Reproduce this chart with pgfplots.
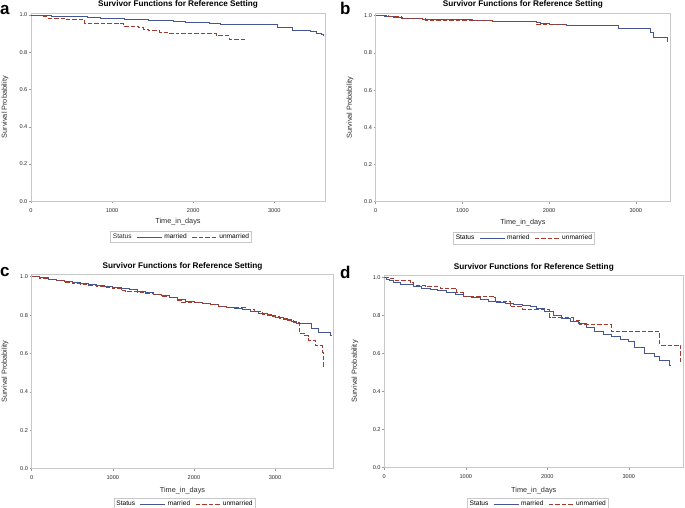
\documentclass[border=0pt]{standalone}
\usepackage{fontspec}
\setmainfont{Liberation Sans}
\usepackage{pgfplots}
\pgfplotsset{compat=1.18}
\definecolor{sasblue}{HTML}{445694}
\definecolor{sasred}{HTML}{A23A2E}
\definecolor{framegray}{HTML}{C8C8C8}
\definecolor{tickgray}{HTML}{9A9A9A}
\definecolor{txtgray}{HTML}{2A2A2A}
\pgfplotsset{
  km/.style={
    scale only axis, anchor=south west,
    xmin=0, ymin=0,
    axis line style={framegray, line width=0.6pt},
    tick style={tickgray, line width=0.5pt},
    tick align=outside, major tick length=2pt,
    tick pos=left,
    xtick={0,1000,2000,3000},
    ytick={0,0.2,0.4,0.6,0.8,1.0},
    scaled x ticks=false,
    ticklabel style={font=\fontsize{5.6}{6}\selectfont, text=txtgray, inner sep=1.5pt},
    xticklabel style={yshift=-3.5pt, /pgf/number format/.cd, 1000 sep={}},
    yticklabel style={/pgf/number format/.cd, fixed, fixed zerofill, precision=1},
    /pgf/number format/assume math mode=true,
    xlabel={Time\_in\_days}, ylabel={Survival Probability},
    label style={font=\fontsize{7.3}{8}\selectfont, text=txtgray},
    title={Survivor Functions for Reference Setting},
    title style={font=\bfseries\fontsize{8.2}{9}\selectfont, at={(axis description cs:0.5,1)}, anchor=center},
    legend columns=-1,
    legend style={draw=framegray, line width=0.5pt, font=\fontsize{6.6}{7}\selectfont,
      at={(axis description cs:0.5,0)}, anchor=north, inner sep=0.6pt,
      /tikz/every even column/.append style={column sep=3pt}},
  },
  married/.style={sasblue, line width=0.7pt, const plot mark left,
    legend image code/.code={\draw[sasblue, line width=0.7pt] (0pt,0pt) -- (25pt,0pt);}},
  unmarried/.style={sasred, line width=0.7pt, const plot mark left, dash pattern=on 4.5pt off 2pt,
    legend image code/.code={\draw[sasred, line width=0.7pt, dash pattern=on 4.5pt off 2pt] (0pt,0pt) -- (25pt,0pt);}},
}
\begin{document}
\begin{tikzpicture}
\useasboundingbox (0pt,0pt) rectangle (685pt,508pt);
% panel letters
\node[font=\bfseries\fontsize{17}{18}\selectfont, anchor=base west, inner sep=0] at (0pt,493pt) {a};
\node[font=\bfseries\fontsize{17}{18}\selectfont, anchor=base west, inner sep=0] at (340pt,493pt) {b};
\node[font=\bfseries\fontsize{17}{18}\selectfont, anchor=base west, inner sep=0] at (0pt,231.5pt) {c};
\node[font=\bfseries\fontsize{17}{18}\selectfont, anchor=base west, inner sep=0] at (340pt,229pt) {d};

% ---------------- a
\begin{axis}[km, at={(31pt,306.7pt)}, width=294pt, height=188pt, xmax=3625, ymax=1.009,
  title style={yshift=2.4pt},
  xlabel style={at={(axis description cs:0.5,0)}, anchor=center, yshift=-20.4pt},
  ylabel style={at={(axis description cs:-0.0884,0.5)}, anchor=center},
  legend style={yshift=-29.7pt, xshift=3pt}]
\addlegendimage{empty legend}\addlegendentry{\textcolor{txtgray}{Status}\hspace{8pt}}
\addplot[married] coordinates {(0,1) (100,0.998) (250,0.995) (400,0.993) (550,0.990) (700,0.987) (850,0.984) (1000,0.981) (1150,0.977) (1300,0.974) (1450,0.972) (1600,0.969) (1750,0.966) (1900,0.962) (2050,0.958) (2200,0.955) (2330,0.952) (2700,0.950) (2900,0.948) (3040,0.934) (3225,0.916) (3450,0.912) (3515,0.904) (3575,0.895) (3600,0.886)};
\addlegendentry{married}
\addplot[unmarried] coordinates {(0,1) (130,0.995) (190,0.984) (420,0.978) (662,0.957) (1073,0.953) (1134,0.941) (1320,0.932) (1381,0.923) (1450,0.918) (1587,0.909) (1690,0.904) (1812,0.900) (2281,0.888) (2445,0.870) (2650,0.866)};
\addlegendentry{unmarried}
\end{axis}

% ---------------- b
\begin{axis}[km, at={(375.7pt,306.3pt)}, width=294.3pt, height=188.4pt, xmax=3395, ymax=1.013,
  title style={yshift=2.4pt},
  xlabel style={at={(axis description cs:0.5,0)}, anchor=center, yshift=-21pt},
  ylabel style={at={(axis description cs:-0.0873,0.5)}, anchor=center},
  legend style={yshift=-30.5pt, xshift=1pt}]
\addlegendimage{empty legend}\addlegendentry{Status\hspace{8pt}}
\addplot[married] coordinates {(0,1) (100,0.996) (200,0.992) (303,0.988) (534,0.982) (995,0.979) (1111,0.975) (1342,0.968) (1850,0.964) (1895,0.961) (2000,0.955) (2203,0.950) (2798,0.932) (3165,0.910) (3200,0.884) (3363,0.862) (3368,0.862)};
\addlegendentry{married}
\addplot[unmarried] coordinates {(0,1) (150,0.995) (300,0.985) (572,0.976) (1000,0.975) (1342,0.968) (1857,0.955) (1950,0.953) (2221,0.948)};
\addlegendentry{unmarried}
\end{axis}

% ---------------- c
\begin{axis}[km, at={(31.7pt,39.3pt)}, width=301.6pt, height=194.4pt, xmax=3719, ymax=1.0125,
  title style={yshift=2.3pt},
  xlabel style={at={(axis description cs:0.5,0)}, anchor=center, yshift=-22pt},
  ylabel style={at={(axis description cs:-0.0885,0.5)}, anchor=center},
  legend style={yshift=-29.6pt, xshift=2pt}]
\addlegendimage{empty legend}\addlegendentry{Status\hspace{8pt}}
\addplot[married] coordinates {(0,1) (100,0.994) (200,0.988) (300,0.982) (400,0.976) (500,0.970) (600,0.965) (700,0.962) (800,0.957) (900,0.951) (1000,0.945) (1100,0.938) (1200,0.932) (1300,0.926) (1400,0.918) (1500,0.910) (1600,0.902) (1700,0.893) (1800,0.884) (1900,0.874) (2000,0.867) (2100,0.862) (2200,0.855) (2300,0.848) (2400,0.840) (2500,0.834) (2600,0.828) (2700,0.818) (2800,0.808) (2900,0.798) (3000,0.788) (3100,0.780) (3200,0.770) (3268,0.757) (3450,0.731) (3530,0.708) (3688,0.695) (3692,0.695)};
\addlegendentry{married}
\addplot[unmarried] coordinates {(0,1) (100,0.993) (200,0.986) (300,0.979) (400,0.972) (500,0.965) (600,0.960) (700,0.955) (800,0.950) (900,0.945) (1000,0.938) (1100,0.930) (1150,0.922) (1300,0.920) (1400,0.915) (1500,0.908) (1600,0.900) (1700,0.890) (1800,0.878) (1850,0.866) (1950,0.866) (2100,0.860) (2200,0.854) (2300,0.846) (2400,0.840) (2500,0.838) (2650,0.832) (2750,0.818) (2850,0.805) (2950,0.795) (3050,0.785) (3150,0.772) (3230,0.760) (3296,0.705) (3360,0.693) (3410,0.670) (3493,0.641) (3588,0.604) (3596,0.531) (3600,0.531)};
\addlegendentry{unmarried}
\end{axis}

% ---------------- d
\begin{axis}[km, at={(384.3pt,40.3pt)}, width=299pt, height=192.7pt, xmax=3669, ymax=1.012,
  title style={yshift=1.7pt},
  xlabel style={at={(axis description cs:0.5,0)}, anchor=center, yshift=-23pt},
  ylabel style={at={(axis description cs:-0.098,0.5)}, anchor=center},
  legend style={yshift=-30.3pt, xshift=4pt}]
\addlegendimage{empty legend}\addlegendentry{Status\hspace{8pt}}
\addplot[married] coordinates {(0,1) (30,0.990) (60,0.982) (110,0.976) (193,0.965) (356,0.951) (450,0.944) (561,0.937) (650,0.930) (766,0.921) (870,0.912) (970,0.902) (1070,0.893) (1174,0.884) (1280,0.876) (1379,0.869) (1480,0.862) (1583,0.857) (1700,0.853) (1788,0.849) (1870,0.838) (1968,0.819) (2070,0.802) (2172,0.784) (2280,0.770) (2377,0.758) (2480,0.738) (2581,0.714) (2690,0.700) (2785,0.688) (2900,0.672) (2990,0.661) (3072,0.634) (3195,0.601) (3318,0.587) (3379,0.566) (3500,0.540) (3505,0.540)};
\addlegendentry{married}
\addplot[unmarried] coordinates {(0,1) (70,0.995) (110,0.986) (315,0.976) (356,0.960) (500,0.952) (683,0.942) (888,0.921) (970,0.902) (1337,0.895) (1358,0.872) (1542,0.846) (1700,0.832) (2030,0.788) (2315,0.776) (2398,0.753) (2785,0.714) (3379,0.644) (3637,0.545) (3642,0.545)};
\addlegendentry{unmarried}
\end{axis}
\end{tikzpicture}
\end{document}
